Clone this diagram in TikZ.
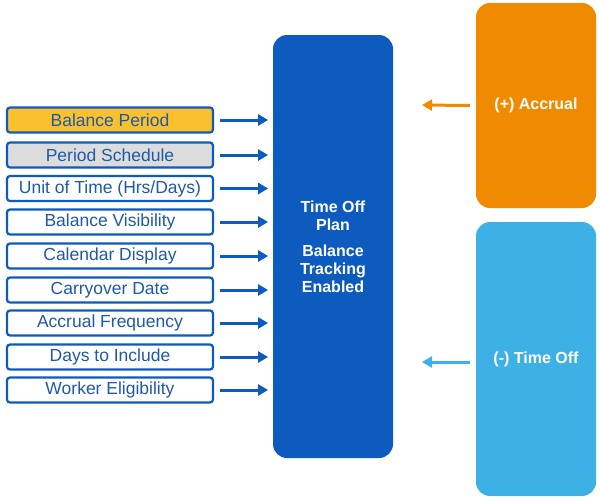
\documentclass[tikz,border=0pt]{standalone}
\usepackage{fontspec}
\setmainfont{Liberation Sans}
\usetikzlibrary{positioning,arrows.meta}
\definecolor{planblue}{HTML}{0D5BBE}
\definecolor{txtblue}{HTML}{1F5AA8}
\definecolor{accrualorange}{HTML}{F08A00}
\definecolor{offblue}{HTML}{3DB1E6}
\definecolor{periodgold}{HTML}{FBC02D}
\definecolor{schedgray}{HTML}{DCDCDC}
\tikzset{
  field/.style={draw=planblue, line width=2.2pt, rounded corners=3pt, fill=white,
    minimum width=206pt, minimum height=25pt, inner sep=0pt, text=txtblue,
    font=\fontsize{17.5}{18}\selectfont},
  bigbox/.style={rounded corners=14pt, minimum width=120pt, text=white,
    font=\bfseries\fontsize{16}{18}\selectfont, align=center},
  feed/.style={-{Triangle[length=10pt,width=11pt]}, line width=3pt, draw=planblue}
}
\begin{document}
\begin{tikzpicture}[x=1pt,y=-1pt]
  \useasboundingbox (0,0) rectangle (600,501);

  %% center plan box
  \node[bigbox, fill=planblue, minimum height=423pt] (plan) at (333,246.5)
    {Time Off\\Plan\\[8pt]Balance\\Tracking\\Enabled};

  %% right side boxes
  \node[bigbox, fill=accrualorange, minimum height=205pt] (accrual) at (536,105.5) {(+) Accrual};
  \node[bigbox, fill=offblue, minimum height=274pt] (timeoff) at (536,359) {(-) Time Off};

  \coordinate (ain) at (422,105);
  \coordinate (tin) at (422,362);
  \draw[feed, draw=accrualorange] (accrual.west) ++(-6,0) coordinate (aout) -- (ain);
  \draw[feed, draw=offblue] (timeoff.west) ++(-6,3) coordinate (tout) -- (tin);

  %% left fields
  \node[field, fill=periodgold] (f1) at (110,120) {Balance Period};
  \node[field, fill=schedgray] (f2) at (110,155) {Period Schedule};
  \node[field] (f3) at (110,188.5) {Unit of Time (Hrs/Days)};
  \node[field] (f4) at (110,222) {Balance Visibility};
  \node[field] (f5) at (110,256) {Calendar Display};
  \node[field] (f6) at (110,290) {Carryover Date};
  \node[field] (f7) at (110,323) {Accrual Frequency};
  \node[field] (f8) at (110,357) {Days to Include};
  \node[field] (f9) at (110,390) {Worker Eligibility};

  \foreach \i in {1,...,9}
    \draw[feed] (f\i.east) ++(6,0) -- ++(48,0);

\end{tikzpicture}
\end{document}
